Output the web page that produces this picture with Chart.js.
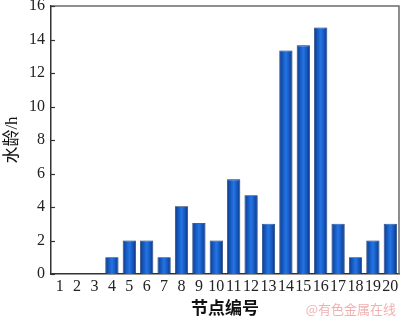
<!DOCTYPE html>
<html>
<head>
<meta charset="utf-8">
<script src="https://cdn.jsdelivr.net/npm/chart.js@4.4.1/dist/chart.umd.min.js"></script>
<style>
html,body{margin:0;padding:0;background:#fff;}
#wrap{width:400px;height:321px;position:relative;}
</style>
</head>
<body>
<div id="wrap"><canvas id="c"></canvas></div>
<script>
const categories = ['1','2','3','4','5','6','7','8','9','10','11','12','13','14','15','16','17','18','19','20'];
const waterAge = [0,0,0,1,2,2,1,4.05,3.05,2,5.65,4.7,3,13.35,13.65,14.72,3,1,2,3];
const yTicks = [0,2,4,6,8,10,12,14,16];
const xTitle = '节点编号';
const yTitle = '水龄/h';
const watermark = '@有色金属在线';

const serif = "'Liberation Serif','Noto Sans CJK SC',serif";
const BAR_PCT = 0.76;

function barFill(c){
  const ch = c.chart;
  const xs = ch.scales && ch.scales.x;
  if (!xs || c.dataIndex == null || !isFinite(xs.width) || xs.width <= 0) return '#1a5fc8';
  const cx = xs.getPixelForValue(c.dataIndex);
  const w = xs.width / categories.length * BAR_PCT;
  const g = ch.ctx.createLinearGradient(cx - w/2, 0, cx + w/2, 0);
  g.addColorStop(0, '#0b3a86');
  g.addColorStop(0.25, '#1658be');
  g.addColorStop(0.5, '#2474e4');
  g.addColorStop(0.75, '#1658be');
  g.addColorStop(1, '#0a3580');
  return g;
}

const decor = {
  id: 'decor',
  afterDraw(chart){
    const {ctx, chartArea:a, scales} = chart;
    ctx.save();
    // frame top and right
    ctx.strokeStyle = '#6a6a6a';
    ctx.lineWidth = 1.5;
    ctx.beginPath();
    ctx.moveTo(a.left, a.top);
    ctx.lineTo(a.right, a.top);
    ctx.lineTo(a.right, a.bottom);
    ctx.stroke();
    // inward y ticks
    ctx.strokeStyle = '#333';
    ctx.lineWidth = 1.2;
    yTicks.forEach(v => {
      const y = Math.round(scales.y.getPixelForValue(v)) + 0.5;
      ctx.beginPath();
      ctx.moveTo(a.left, y);
      ctx.lineTo(a.left + 4, y);
      ctx.stroke();
    });
    // watermark
    ctx.fillStyle = 'rgba(236,150,150,0.75)';
    ctx.font = "13px 'Noto Sans CJK SC', sans-serif";
    ctx.textAlign = 'right';
    ctx.textBaseline = 'middle';
    ctx.fillText(watermark, 396, 309);
    ctx.restore();
  }
};

new Chart(document.getElementById('c'), {
  type: 'bar',
  data: {
    labels: categories,
    datasets: [{
      data: waterAge,
      backgroundColor: barFill,
      borderColor: '#0a2d6e',
      borderWidth: 0.8,
      barPercentage: BAR_PCT,
      categoryPercentage: 1
    }]
  },
  options: {
    responsive: true,
    maintainAspectRatio: false,
    animation: false,
    layout: { padding: { top: 6, right: 1, left: 0, bottom: 0 } },
    plugins: { legend: { display: false }, tooltip: { enabled: false } },
    scales: {
      x: {
        offset: true,
        grid: { display: false, drawTicks: false },
        border: { display: true, color: '#333', width: 1.5 },
        ticks: { color: '#222', font: { family: serif, size: 16 }, padding: 3, maxRotation: 0, autoSkip: false },
        title: { display: true, text: xTitle, color: '#111', font: { family: "'Noto Sans CJK SC', sans-serif", size: 17, weight: 'bold' }, padding: { top: 0, bottom: 3 } },
        afterFit(s){ s.height = 47; s.paddingLeft = 0; s.paddingRight = 0; }
      },
      y: {
        min: 0, max: 16,
        afterBuildTicks(s){ s.ticks = yTicks.map(v => ({ value: v })); },
        grid: { display: false, drawTicks: false },
        border: { display: true, color: '#333', width: 1.5 },
        ticks: { color: '#222', font: { family: serif, size: 16 }, padding: 6 },
        title: { display: true, text: yTitle, color: '#111', font: { family: serif, size: 17 }, padding: { top: 2, bottom: 0 } },
        afterFit(s){ s.width = 51; s.paddingTop = 0; s.paddingBottom = 0; }
      }
    }
  },
  plugins: [decor]
});
</script>
</body>
</html>
